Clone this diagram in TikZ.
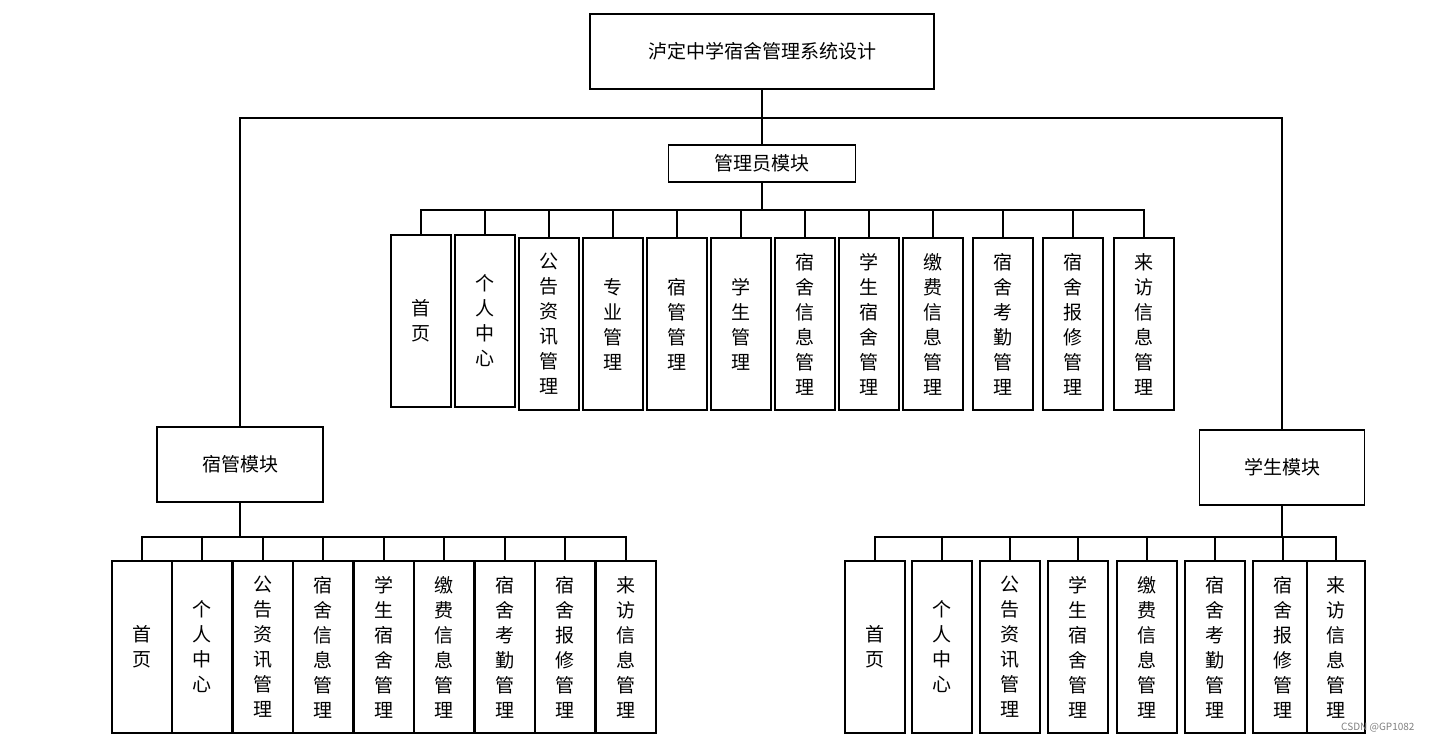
\documentclass[tikz,border=0pt]{standalone}
\usepackage{fontspec}
\setmainfont{Noto Sans CJK SC}
\begin{document}
\begin{tikzpicture}[x=1pt,y=-1pt,
  bx/.style={draw,line width=1.6pt,fill=white,inner sep=0pt,font=\fontsize{19}{25}\selectfont},
  vb/.style={bx,minimum width=60pt,minimum height=172pt,align=center},
  ln/.style={line width=2pt}]
\useasboundingbox (0,0) rectangle (1432,742);
\node[bx,minimum width=344pt,minimum height=75pt] (top) at (762,51.5) {泸定中学宿舍管理系统设计};
\node[bx,minimum width=187pt,minimum height=37pt] (adm) at (762,163.5) {管理员模块};
\node[bx,minimum width=166pt,minimum height=75pt] (sg) at (240,464.5) {宿管模块};
\node[bx,minimum width=165pt,minimum height=75pt] (xs) at (1282,467.5) {学生模块};
\draw[ln] (top.south) -- (762,118) coordinate (tb);
\draw[ln] (sg.north) |- (tb);
\draw[ln] (xs.north) |- (tb);
\draw[ln] (tb) -- (adm.north);
\draw[ln] (adm.south) -- (762,210) coordinate (ab);
\foreach \n/\x/\y/\t in {a1/421/321/首\\页, a2/485/321/个\\人\\中\\心, a3/549/324/公\\告\\资\\讯\\管\\理, a4/613/324/专\\业\\管\\理, a5/677/324/宿\\管\\管\\理, a6/741/324/学\\生\\管\\理, a7/805/324/宿\\舍\\信\\息\\管\\理, a8/869/324/学\\生\\宿\\舍\\管\\理, a9/933/324/缴\\费\\信\\息\\管\\理, a10/1003/324/宿\\舍\\考\\勤\\管\\理, a11/1073/324/宿\\舍\\报\\修\\管\\理, a12/1144/324/来\\访\\信\\息\\管\\理}{
  \node[vb] (\n) at (\x,\y) {\t};
  \draw[ln] (\n.north) |- (ab);
}
\draw[ln] (sg.south) -- (240,537) coordinate (sb);
\foreach \n/\x/\t in {s1/142/首\\页, s2/202/个\\人\\中\\心, s3/263/公\\告\\资\\讯\\管\\理, s4/323/宿\\舍\\信\\息\\管\\理, s5/384/学\\生\\宿\\舍\\管\\理, s6/444/缴\\费\\信\\息\\管\\理, s7/505/宿\\舍\\考\\勤\\管\\理, s8/565/宿\\舍\\报\\修\\管\\理, s9/626/来\\访\\信\\息\\管\\理}{
  \node[vb] (\n) at (\x,647) {\t};
  \draw[ln] (\n.north) |- (sb);
}
\draw[ln] (xs.south) -- (1282,537) coordinate (xb);
\foreach \n/\x/\t in {x1/875/首\\页, x2/942/个\\人\\中\\心, x3/1010/公\\告\\资\\讯\\管\\理, x4/1078/学\\生\\宿\\舍\\管\\理, x5/1147/缴\\费\\信\\息\\管\\理, x6/1215/宿\\舍\\考\\勤\\管\\理, x7/1283/宿\\舍\\报\\修\\管\\理}{
  \node[vb] (\n) at (\x,647) {\t};
  \draw[ln] (\n.north) |- (xb);
}
\node[vb,minimum width=58pt] (x8) at (1336,647) {来\\访\\信\\息\\管\\理};
\draw[ln] (x8.north) |- (xb);
\node[font=\fontsize{10}{12}\selectfont,text=gray,anchor=east] (wm) at (1418,728) {CSDN @GP1082};
\end{tikzpicture}
\end{document}
